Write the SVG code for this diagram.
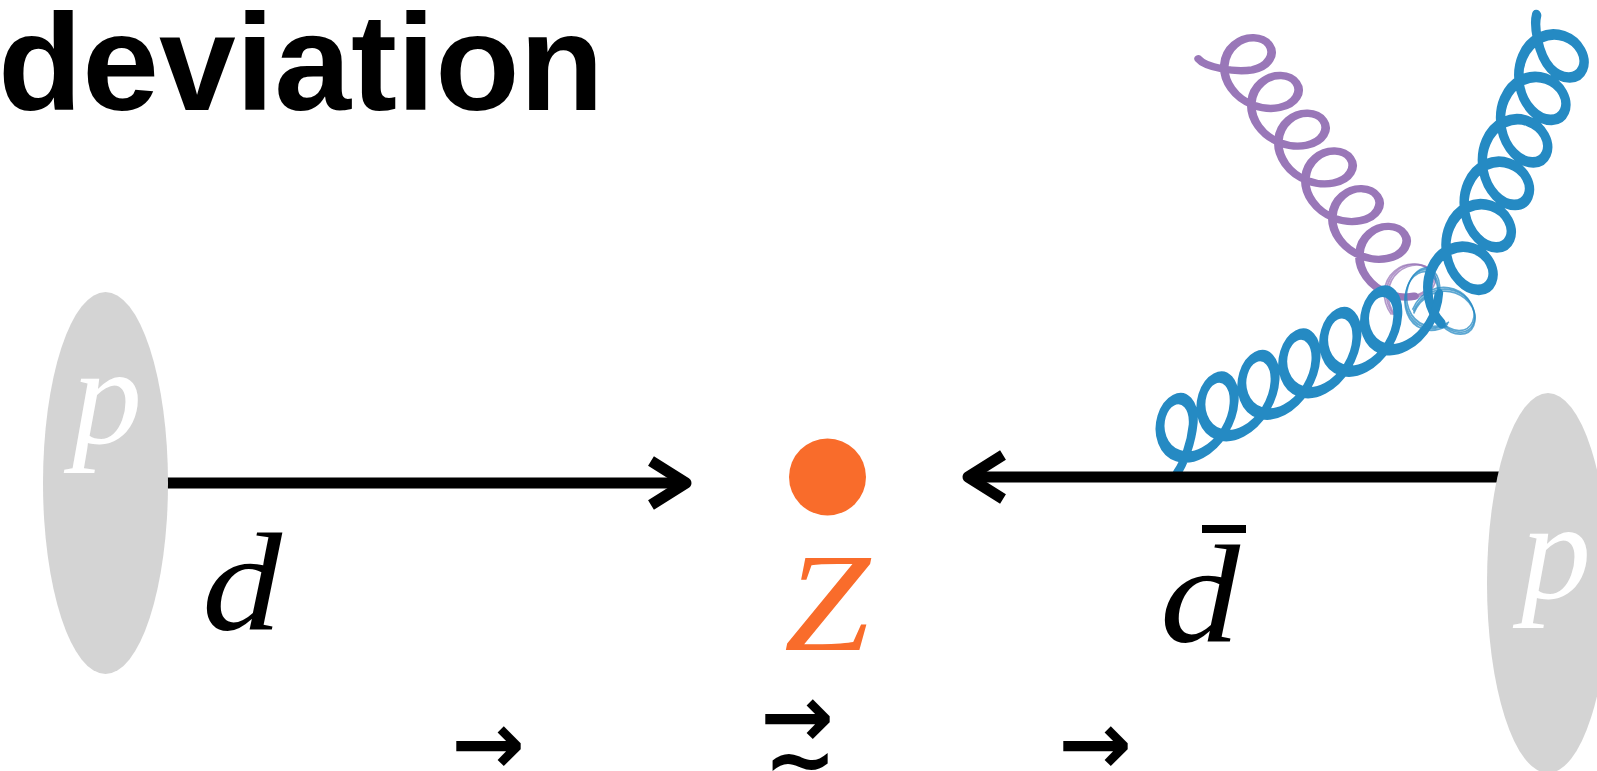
<svg xmlns="http://www.w3.org/2000/svg" width="1597" height="771" viewBox="0 0 1597 771">
  <style>
    .title{font-family:"Liberation Sans",Arial,Helvetica,sans-serif;font-weight:bold;font-size:138px;fill:#000}
    .math{font-family:"Liberation Serif","Times New Roman",serif;font-style:italic;font-size:140px}
    .proton{fill:#d4d4d4}
    .plabel{fill:#fff}
    .quark{fill:none;stroke:#000;stroke-width:11}
    .gp{fill:none;stroke:#9977b8;stroke-width:8;stroke-linecap:round;stroke-linejoin:round}
    .gb{fill:none;stroke:#258ac3;stroke-width:10;stroke-linecap:round;stroke-linejoin:round}
    .gp-thin{fill:none;stroke:#9977b8;stroke-width:1.6;stroke-opacity:.75}
    .gb-thin{fill:none;stroke:#258ac3;stroke-width:1.6;stroke-opacity:.75}
    .vec{font-family:"DejaVu Sans",sans-serif;font-weight:bold;font-size:88px;fill:#000}
  </style>
  <defs>
    <marker id="chevron" markerUnits="userSpaceOnUse" viewBox="-50 -30 60 60" refX="0" refY="0" markerWidth="60" markerHeight="60" orient="auto" overflow="visible">
      <path d="M-35,-22 L0,0 L-35,22" fill="none" stroke="#000" stroke-width="11" stroke-linejoin="round"/>
    </marker>
  </defs>

  <rect width="1597" height="771" fill="#fff"/>

  <g id="title">
    <text class="title" x="-2" y="110">deviation</text>
  </g>

  <!-- gluons: projected helices, one turn = 4 cubic segments in a local frame (x along the gluon, slight forward lean) -->
  <g id="gluon-purple" transform="translate(1252.5,69.8) rotate(54.4) skewX(-10)">
    <path class="gp" d="M-33.6,37.6 C-23,37 -5,16 0,0
      c4.08,-15.46 -4.57,-28 -15.4,-28 c-10.83,0 -19.48,12.54 -15.4,28 c4.08,15.46 19.61,28 38.6,28 c18.99,0 34.52,-12.54 38.6,-28
      c4.08,-15.46 -4.57,-28 -15.4,-28 c-10.83,0 -19.48,12.54 -15.4,28 c4.08,15.46 19.61,28 38.6,28 c18.99,0 34.52,-12.54 38.6,-28
      c4.08,-15.46 -4.57,-28 -15.4,-28 c-10.83,0 -19.48,12.54 -15.4,28 c4.08,15.46 19.61,28 38.6,28 c18.99,0 34.52,-12.54 38.6,-28
      c4.08,-15.46 -4.57,-28 -15.4,-28 c-10.83,0 -19.48,12.54 -15.4,28 c4.08,15.46 19.61,28 38.6,28 c18.99,0 34.52,-12.54 38.6,-28
      c4.08,-15.46 -4.57,-28 -15.4,-28 c-10.83,0 -19.48,12.54 -15.4,28 c4.08,15.46 19.61,28 38.6,28 c18.99,0 34.52,-12.54 38.6,-28
      c4.08,-15.46 -4.57,-28 -15.4,-28 c-10.83,0 -19.48,12.54 -15.4,28 c4.08,15.46 19.61,28 38.6,28 c18.99,0 34.52,-12.54 38.6,-28"/>
    <g>
      <path class="gp-thin" d="M278.4,0 c4.08,-15.46 -4.57,-28 -15.4,-28 c-10.83,0 -19.48,12.54 -15.4,28 c4.08,15.46 19.61,28 38.6,28"/>
      <path class="gp-thin" transform="translate(1.5,-1)" d="M278.4,0 c4.08,-15.46 -4.57,-28 -15.4,-28 c-10.83,0 -19.48,12.54 -15.4,28 c4.08,15.46 19.61,28 38.6,28"/>
      <path class="gp-thin" transform="translate(-1,1.5)" d="M278.4,0 c4.08,-15.46 -4.57,-28 -15.4,-28 c-10.83,0 -19.48,12.54 -15.4,28 c4.08,15.46 19.61,28 38.6,28"/>
    </g>
  </g>

  <g id="gluon-blue-top" transform="translate(1550.3,68.2) rotate(113.2) skewX(-10)">
    <path class="gb" d="M-37.6,33.5 C-27,32 -5,17 0,0
      c4.06,-16.57 -5.49,-30 -17.45,-30 c-11.96,0 -21.51,13.43 -17.45,30 c4.06,16.57 20.47,30 40.55,30 c20.08,0 36.49,-13.43 40.55,-30
      c4.06,-16.57 -5.49,-30 -17.45,-30 c-11.96,0 -21.51,13.43 -17.45,30 c4.06,16.57 20.47,30 40.55,30 c20.08,0 36.49,-13.43 40.55,-30
      c4.06,-16.57 -5.49,-30 -17.45,-30 c-11.96,0 -21.51,13.43 -17.45,30 c4.06,16.57 20.47,30 40.55,30 c20.08,0 36.49,-13.43 40.55,-30
      c4.06,-16.57 -5.49,-30 -17.45,-30 c-11.96,0 -21.51,13.43 -17.45,30 c4.06,16.57 20.47,30 40.55,30 c20.08,0 36.49,-13.43 40.55,-30
      c4.06,-16.57 -5.49,-30 -17.45,-30 c-11.96,0 -21.51,13.43 -17.45,30 c4.06,16.57 20.47,30 40.55,30 c20.08,0 36.49,-13.43 40.55,-30
      c4.06,-16.57 -5.49,-30 -17.45,-30 c-11.96,0 -21.51,13.43 -17.45,30 c4.06,16.57 20.47,30 40.55,30 c20.08,0 36.49,-13.43 40.55,-30"/>
    <g>
      <path class="gb-thin" d="M277.2,0 c4.06,-16.57 -5.49,-30 -17.45,-30 c-11.96,0 -21.51,13.43 -17.45,30 c4.06,16.57 20.47,30 40.55,30"/>
      <path class="gb-thin" transform="translate(1.5,-1)" d="M277.2,0 c4.06,-16.57 -5.49,-30 -17.45,-30 c-11.96,0 -21.51,13.43 -17.45,30 c4.06,16.57 20.47,30 40.55,30"/>
      <path class="gb-thin" transform="translate(-1,1.5)" d="M277.2,0 c4.06,-16.57 -5.49,-30 -17.45,-30 c-11.96,0 -21.51,13.43 -17.45,30 c4.06,16.57 20.47,30 40.55,30"/>
    </g>
  </g>

  <g id="gluon-blue-bottom" transform="translate(1193.2,423.7) rotate(-27.7) skewX(-20)">
    <path class="gb" d="M-24.2,36.1 C-16,31 -5,17 0,0
      c4.06,-16.57 -5.49,-30 -17.45,-30 c-11.96,0 -21.51,13.43 -17.45,30 c4.06,16.57 20.47,30 40.55,30 c20.08,0 36.49,-13.43 40.55,-30
      c4.06,-16.57 -5.49,-30 -17.45,-30 c-11.96,0 -21.51,13.43 -17.45,30 c4.06,16.57 20.47,30 40.55,30 c20.08,0 36.49,-13.43 40.55,-30
      c4.06,-16.57 -5.49,-30 -17.45,-30 c-11.96,0 -21.51,13.43 -17.45,30 c4.06,16.57 20.47,30 40.55,30 c20.08,0 36.49,-13.43 40.55,-30
      c4.06,-16.57 -5.49,-30 -17.45,-30 c-11.96,0 -21.51,13.43 -17.45,30 c4.06,16.57 20.47,30 40.55,30 c20.08,0 36.49,-13.43 40.55,-30
      c4.06,-16.57 -5.49,-30 -17.45,-30 c-11.96,0 -21.51,13.43 -17.45,30 c4.06,16.57 20.47,30 40.55,30 c20.08,0 36.49,-13.43 40.55,-30
      c4.06,-16.57 -5.49,-30 -17.45,-30 c-11.96,0 -21.51,13.43 -17.45,30 c4.06,16.57 20.47,30 40.55,30 c20.08,0 36.49,-13.43 40.55,-30"/>
    <g>
      <path class="gb-thin" d="M277.2,0 c4.06,-16.57 -5.49,-30 -17.45,-30 c-11.96,0 -21.51,13.43 -17.45,30 c4.06,16.57 20.47,30 40.55,30"/>
      <path class="gb-thin" transform="translate(1.5,-1)" d="M277.2,0 c4.06,-16.57 -5.49,-30 -17.45,-30 c-11.96,0 -21.51,13.43 -17.45,30 c4.06,16.57 20.47,30 40.55,30"/>
      <path class="gb-thin" transform="translate(-1,1.5)" d="M277.2,0 c4.06,-16.57 -5.49,-30 -17.45,-30 c-11.96,0 -21.51,13.43 -17.45,30 c4.06,16.57 20.47,30 40.55,30"/>
    </g>
  </g>

  <!-- incoming quark lines -->
  <g id="connectors">
    <line class="quark" x1="160" y1="483" x2="686" y2="483" marker-end="url(#chevron)"/>
    <line class="quark" x1="1500" y1="477" x2="968" y2="477" stroke-width="10" marker-end="url(#chevron)"/>
  </g>

  <g id="proton-left">
    <ellipse class="proton" cx="105.5" cy="483" rx="62.5" ry="191"/>
    <text class="math plabel" x="72" y="443">p</text>
  </g>

  <g id="proton-right">
    <ellipse class="proton" cx="1548" cy="583" rx="61" ry="190"/>
    <text class="math plabel" x="1521" y="598">p</text>
  </g>

  <g id="z-boson">
    <circle cx="827.5" cy="477" r="38.5" fill="#f96c2b"/>
    <text class="math" x="784" y="650" fill="#f96c2b" textLength="86" lengthAdjust="spacingAndGlyphs">Z</text>
  </g>

  <g id="quark-d">
    <text class="math" x="202" y="630" fill="#000" textLength="80" lengthAdjust="spacingAndGlyphs">d</text>
  </g>

  <g id="quark-dbar">
    <text class="math" x="1160" y="642" fill="#000" textLength="80" lengthAdjust="spacingAndGlyphs">d</text>
    <rect x="1202" y="525" width="44" height="8" fill="#000"/>
  </g>

  <g id="vectors">
    <text class="vec" x="488" y="774" text-anchor="middle">→</text>
    <text class="vec" x="797" y="747" text-anchor="middle">→</text>
    <text class="vec" x="800" y="790" text-anchor="middle" font-size="66">~</text>
    <text class="vec" x="1095" y="774" text-anchor="middle">→</text>
  </g>
</svg>
